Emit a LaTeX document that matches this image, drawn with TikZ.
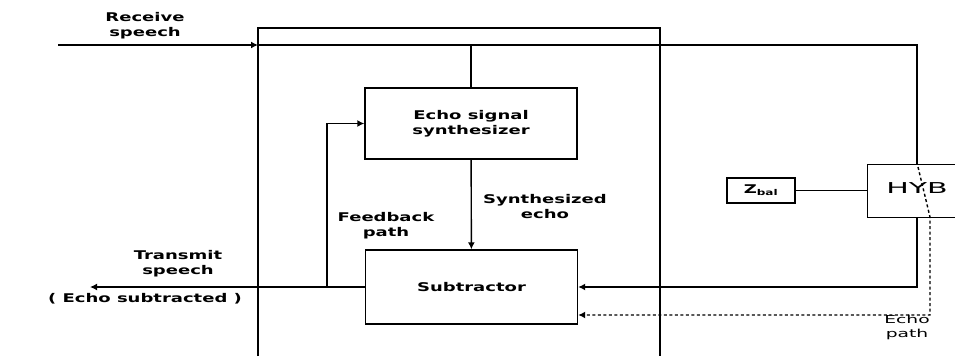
\documentclass[tikz,border=0pt]{standalone}
\usepackage{fontspec}
\newfontfamily\lblfont[FakeStretch=1.5]{DejaVu Sans}
\newfontfamily\hybfont[FakeStretch=2]{DejaVu Sans}
\newfontfamily\pathfont[FakeStretch=1.7]{DejaVu Sans}
\usetikzlibrary{arrows.meta,positioning}

\begin{document}
\begin{tikzpicture}[x=1pt, y=-1pt, line width=1.4pt,
  blk/.style={draw, inner sep=0pt, minimum width=212pt, align=center,
    font=\lblfont\bfseries\fontsize{12}{15}\selectfont},
  lbl/.style={align=center, font=\lblfont\bfseries\fontsize{12}{15}\selectfont},
  arr/.style={-{Latex[length=7pt,width=7pt]}},
  echoline/.style={dash pattern=on 3pt off 2.5pt}]
\useasboundingbox (0,0) rectangle (955,356);
% canceller outline, open at the bottom
\draw (258,356) -- (258,28) -- (660,28) -- (660,356);

\node[blk, minimum height=71pt] (synth) at (471,123.5) {Echo signal\\synthesizer};
\node[blk, minimum height=74pt] (subtr) at (471.5,287) {Subtractor};
\node[draw, inner sep=0pt, minimum width=96pt, minimum height=53pt, anchor=north west] (hyb) at (867,164) {};
\node[font=\hybfont\fontsize{15}{15}\selectfont] (hybtxt) at (917,188) {HYB};
\node[draw, inner sep=0pt, minimum width=68pt, minimum height=25pt,
  font=\lblfont\bfseries\fontsize{12}{12}\selectfont] (zbal) at (761,190.5) {Z\textsubscript{bal}};

\coordinate (rxin) at (58,45);
\coordinate (txout) at (90,287);
\coordinate (hybtap) at (917,45);
\coordinate (fbtap) at (327,287);
\coordinate (epath) at (930,315);

% receive side
\draw[arr] (rxin) -- (258,45);
\draw (258,45) -- (hybtap) -- (hybtap |- hyb.north);
\draw (synth.north |- rxin) -- (synth.north);
\draw[arr] (synth) -- (subtr);
% transmit side
\draw[arr] (subtr) -- (txout);
\draw[arr] (fbtap) |- (synth.west);
\draw[arr] (hybtap |- hyb.south) |- (subtr.east);
\draw (zbal) -- (zbal -| hyb.west);
% echo path
\draw[arr, echoline] (918,167) -- (930,217) -- (epath) -- (subtr.east |- epath);

\node[lbl] (rxlbl) at (145,26) {Receive\\speech};
\node[lbl] (txlbl) at (178,264) {Transmit\\speech};
\node[lbl] (eslbl) at (145,299) {( Echo subtracted )};
\node[lbl] (fblbl) at (386,226) {Feedback\\path};
\node[lbl] (snlbl) at (545,207) {Synthesized\\echo};
\node[align=center, font=\pathfont\fontsize{11}{14}\selectfont] (eplbl) at (907,327) {Echo\\path};
\end{tikzpicture}
\end{document}
